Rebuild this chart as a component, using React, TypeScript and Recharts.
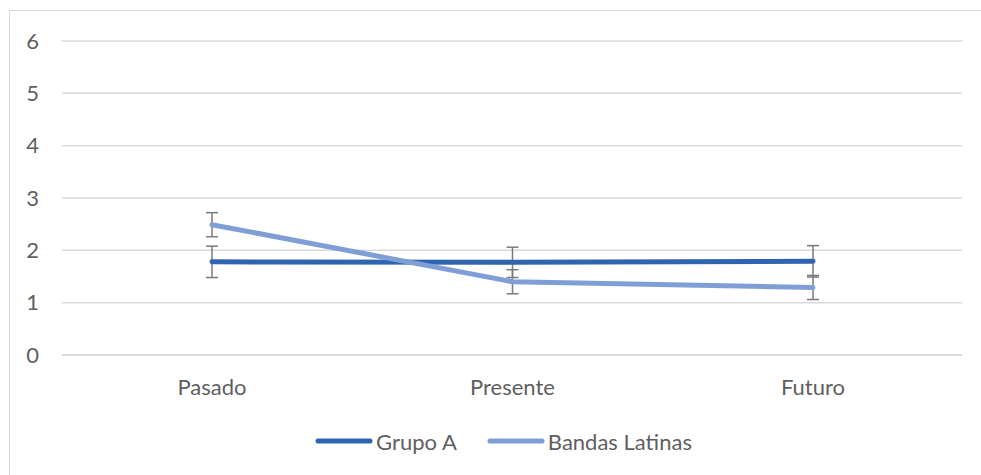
import { CartesianGrid, ErrorBar, Legend, Line, LineChart, XAxis, YAxis } from "recharts";

const categories = ["Pasado", "Presente", "Futuro"];
const seriesNames = ["Grupo A", "Bandas Latinas"];
const grupoA = [1.78, 1.77, 1.79];
const grupoAError = [0.3, 0.29, 0.3];
const bandasLatinas = [2.49, 1.4, 1.29];
const bandasLatinasError = [0.23, 0.23, 0.23];
const yTicks = [0, 1, 2, 3, 4, 5, 6];

const data = categories.map((name, i) => ({
  name,
  grupoA: grupoA[i],
  grupoAError: grupoAError[i],
  bandasLatinas: bandasLatinas[i],
  bandasLatinasError: bandasLatinasError[i]
}));

const FONT = "Lato, 'Open Sans', sans-serif";
const TEXT = "#5f5f5f";
const GRID = "#d9d9d9";
const ERR = "#7a7a7a";

function LegendContent({ payload }: { payload?: Array<{ value: string; color: string }> }) {
  const items = [...(payload ?? [])].sort(
    (a, b) => seriesNames.indexOf(a.value) - seriesNames.indexOf(b.value)
  );
  return (
    <div style={{ display: "flex", justifyContent: "center", alignItems: "center", paddingLeft: 16, height: 40 }}>
      {items.map((item, i) => (
        <div key={item.value} style={{ display: "flex", alignItems: "center", marginLeft: i === 0 ? 0 : 30 }}>
          <svg width={58} height={10} style={{ marginRight: 3 }}>
            <line x1={3} y1={5} x2={55} y2={5} stroke={item.color} strokeWidth={5} strokeLinecap="round" />
          </svg>
          <span style={{ fontFamily: FONT, fontSize: 22, color: TEXT }}>{item.value}</span>
        </div>
      ))}
    </div>
  );
}

export default function App() {
  return (
    <div
      style={{
        position: "absolute",
        left: 9,
        top: 10,
        width: 972,
        height: 465,
        borderTop: `1px solid ${GRID}`,
        borderLeft: `1px solid ${GRID}`,
        boxSizing: "border-box",
        background: "#fff"
      }}
    >
      <LineChart width={971} height={464} data={data} margin={{ top: 30, right: 19, left: 0, bottom: 30 }}>
        <CartesianGrid vertical={false} stroke={GRID} strokeWidth={1.5} />
        <XAxis
          dataKey="name"
          padding={{ left: 150, right: 149 }}
          height={50}
          axisLine={{ stroke: GRID, strokeWidth: 1.5 }}
          tickLine={false}
          tickSize={0}
          tickMargin={24}
          tick={{ fill: TEXT, fontSize: 22, fontFamily: FONT }}
        />
        <YAxis
          domain={[0, 6]}
          ticks={yTicks}
          width={52}
          axisLine={false}
          tickLine={false}
          tickSize={0}
          tickMargin={23}
          tick={{ fill: TEXT, fontSize: 22, fontFamily: FONT }}
        />
        <Legend
          verticalAlign="bottom"
          height={40}
          wrapperStyle={{ top: 410, left: 0, width: 971 }}
          content={(props: any) => <LegendContent payload={props.payload} />}
        />
        <Line
          type="linear"
          dataKey="grupoA"
          name="Grupo A"
          stroke="#2f64b1"
          strokeWidth={5}
          strokeLinecap="round"
          dot={false}
          isAnimationActive={false}
        >
          <ErrorBar dataKey="grupoAError" direction="y" width={6} stroke={ERR} strokeWidth={1.5} />
        </Line>
        <Line
          type="linear"
          dataKey="bandasLatinas"
          name="Bandas Latinas"
          stroke="#809ed6"
          strokeWidth={5}
          strokeLinecap="round"
          dot={false}
          isAnimationActive={false}
        >
          <ErrorBar dataKey="bandasLatinasError" direction="y" width={6} stroke={ERR} strokeWidth={1.5} />
        </Line>
      </LineChart>
    </div>
  );
}
